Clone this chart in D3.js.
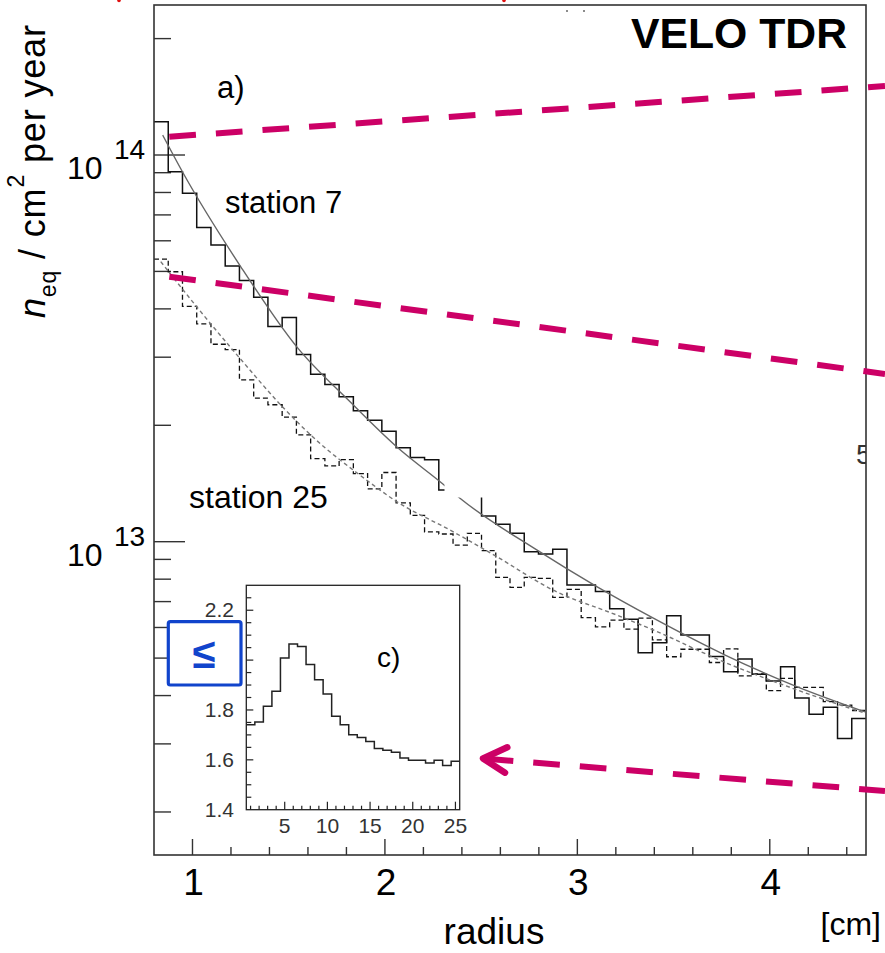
<!DOCTYPE html>
<html><head><meta charset="utf-8">
<script src="https://cdn.jsdelivr.net/npm/d3@7"></script>
<style>
body{margin:0;background:#fff}
svg{display:block}
text{font-family:"Liberation Sans",Arial,Helvetica,sans-serif}
</style>
</head><body>
<svg id="chart" width="885" height="953"></svg>
<script>
// ---------------- DATA ----------------
const radiusMin = 0.8, radiusMax = 4.5, nBins = 50;
const station7 = [1.219e14, 9.05e13, 7.96e13, 6.49e13, 5.85e13, 5.16e13, 4.74e13, 4.29e13, 3.60e13, 3.80e13,
  3.05e13, 2.71e13, 2.55e13, 2.37e13, 2.18e13, 2.06e13, 1.93e13, 1.75e13, 1.65e13, 1.63e13,
  1.36e13, 1.46e13, 1.38e13, 1.166e13, 1.109e13, 1.051e13, 9.42e12, 9.29e12, 9.56e12, 7.73e12,
  7.73e12, 7.43e12, 6.71e12, 6.30e12, 5.16e12, 5.48e12, 6.43e12, 5.74e12, 5.74e12, 5.05e12,
  4.61e12, 4.97e12, 4.54e12, 4.36e12, 4.75e12, 3.94e12, 3.58e12, 3.73e12, 3.10e12, 3.49e12];
const station25 = [5.38e13, 4.99e13, 4.06e13, 3.66e13, 3.24e13, 3.14e13, 2.62e13, 2.35e13, 2.26e13, 2.10e13,
  1.89e13, 1.64e13, 1.57e13, 1.63e13, 1.50e13, 1.37e13, 1.51e13, 1.26e13, 1.17e13, 1.06e13,
  1.047e13, 9.80e12, 1.051e13, 9.48e12, 8.09e12, 7.62e12, 8.09e12, 8.04e12, 7.18e12, 7.53e12,
  6.36e12, 6.02e12, 6.27e12, 5.94e12, 6.34e12, 5.57e12, 5.04e12, 5.27e12, 5.27e12, 4.87e12,
  5.28e12, 4.50e12, 4.55e12, 4.12e12, 4.43e12, 4.20e12, 4.20e12, 3.86e12, 3.78e12, 3.66e12];
const fit7Radius = [0.845, 0.952, 1.251, 1.542, 1.819, 2.061, 2.309, 2.390, 2.789, 3.101, 3.395, 3.768, 4.140, 4.495];
const fit7Value  = [1.126e14, 8.97e13, 5.14e13, 3.19e13, 2.30e13, 1.76e13, 1.40e13, 1.295e13, 9.52e12, 7.65e12, 6.34e12, 5.09e12, 4.22e12, 3.63e12];
const fit25Radius = [0.835, 1.029, 1.254, 1.476, 1.623, 1.891, 2.061, 2.338, 2.581, 2.875, 3.205, 3.395, 3.777, 4.140, 4.495];
const fit25Value  = [5.30e13, 4.01e13, 2.95e13, 2.21e13, 1.87e13, 1.46e13, 1.27e13, 1.072e13, 9.15e12, 7.49e12, 6.46e12, 5.91e12, 4.85e12, 4.14e12, 3.60e12];
const xTickValues = [1, 2, 3, 4];
const xTickLabels = ["1", "2", "3", "4"];
const yDecadeValues = [1e13, 1e14];
const yDecadeExponents = ["13", "14"];

const kappaStation = [1,2,3,4,5,6,7,8,9,10,11,12,13,14,15,16,17,18,19,20,21,22,23,24,25];
const kappaValue = [1.741,1.752,1.815,1.875,2.008,2.065,2.055,1.982,1.921,1.864,1.775,1.741,1.701,1.690,1.674,
  1.645,1.638,1.630,1.607,1.598,1.598,1.587,1.598,1.577,1.594];
const insetXTicks = [5, 10, 15, 20, 25];
const insetXLabels = ["5", "10", "15", "20", "25"];
// the 2.0 label is hidden behind the blue box in the reference
const insetYTicks = [1.4, 1.6, 1.8, 2.2];
const insetYLabels = ["1.4", "1.6", "1.8", "2.2"];

// ---------------- SETUP ----------------
const svg = d3.select("#chart");
const L = 154, R = 866, T = 5, B = 855;
const x = d3.scaleLinear().domain([radiusMin, radiusMax]).range([L, R]);
const y = d3.scaleLog().domain([1.548e12, 2.443e14]).range([B, T]);
const binW = (radiusMax - radiusMin) / nBins;
const axisCol = "#333";

svg.append("defs").append("clipPath").attr("id", "plotclip")
  .append("rect").attr("x", L).attr("y", T).attr("width", R - L).attr("height", B - T);

// stray marks at the top edge (cut-off content)
svg.append("circle").attr("cx", 119).attr("cy", 0.5).attr("r", 1.8).attr("fill", "#e01010");
svg.append("circle").attr("cx", 504).attr("cy", 0.5).attr("r", 1.8).attr("fill", "#e01010");
svg.append("circle").attr("cx", 567).attr("cy", 11).attr("r", 1).attr("fill", "#666");
svg.append("circle").attr("cx", 584).attr("cy", 11).attr("r", 1).attr("fill", "#666");

// y ticks (log)
const yt = y.ticks().filter(v => v >= y.domain()[0] && v <= y.domain()[1]);
svg.append("g").selectAll("line").data(yt).join("line")
  .attr("x1", L).attr("x2", v => L + (Math.abs(Math.log10(v) - Math.round(Math.log10(v))) < 1e-9 ? 31 : 17))
  .attr("y1", v => y(v)).attr("y2", v => y(v))
  .attr("stroke", axisCol).attr("stroke-width", 1.4);

// x ticks
const xt = x.ticks(20).filter(v => v > radiusMin + 1e-6);
svg.append("g").selectAll("line").data(xt).join("line")
  .attr("x1", v => x(v)).attr("x2", v => x(v))
  .attr("y1", B).attr("y2", v => B - (Math.abs(v - Math.round(v)) < 1e-9 ? 16 : 8))
  .attr("stroke", axisCol).attr("stroke-width", 1.4);

// histograms
function stepPath(vals, xs, ys, lo, w) {
  let p = "";
  vals.forEach((v, i) => {
    const x0 = xs(lo + i * w), x1 = xs(lo + (i + 1) * w), yy = ys(v);
    p += (i === 0 ? "M" : "L") + x0 + "," + yy + "L" + x1 + "," + yy;
  });
  return p;
}
const plot = svg.append("g").attr("clip-path", "url(#plotclip)");
plot.append("path").attr("d", stepPath(station25, x, y, radiusMin, binW))
  .attr("fill", "none").attr("stroke", "#111").attr("stroke-width", 1.3).attr("stroke-dasharray", "5,3");
plot.append("path").attr("d", stepPath(station7, x, y, radiusMin, binW))
  .attr("fill", "none").attr("stroke", "#111").attr("stroke-width", 1.5);

const fitLine = d3.line().x(d => x(d[0])).y(d => y(d[1])).curve(d3.curveMonotoneX);
plot.append("path").attr("d", fitLine(fit25Radius.map((r, i) => [r, fit25Value[i]])))
  .attr("fill", "none").attr("stroke", "#777").attr("stroke-width", 1.4).attr("stroke-dasharray", "4,3");
plot.append("path").attr("d", fitLine(fit7Radius.map((r, i) => [r, fit7Value[i]])))
  .attr("fill", "none").attr("stroke", "#666").attr("stroke-width", 1.4);

// white patch hiding part of station 7
svg.append("rect").attr("x", 444.5).attr("y", 440).attr("width", 38.5).attr("height", 57.5).attr("fill", "#fff");

// partially hidden glyph at right edge
svg.append("text").attr("x", 856).attr("y", 464).attr("font-size", 28).attr("fill", "#333")
  .attr("clip-path", "url(#plotclip)").text("5");

// frame
svg.append("rect").attr("x", L).attr("y", T).attr("width", R - L).attr("height", B - T)
  .attr("fill", "none").attr("stroke", axisCol).attr("stroke-width", 1.6);

// x labels
svg.append("g").selectAll("text").data(xTickValues).join("text")
  .attr("x", v => x(v) + 1).attr("y", 895).attr("text-anchor", "middle")
  .attr("font-size", 37).text((v, i) => xTickLabels[i]);
svg.append("text").attr("x", 494).attr("y", 944).attr("text-anchor", "middle").attr("font-size", 37).text("radius");
svg.append("text").attr("x", 881).attr("y", 935).attr("text-anchor", "end").attr("font-size", 32).text("[cm]");

// y labels 10^n
yDecadeValues.forEach((v, i) => {
  const g = svg.append("g");
  g.append("text").attr("x", 67).attr("y", y(v) + 24).attr("font-size", 32).text("10");
  g.append("text").attr("x", 114).attr("y", y(v) + 4).attr("font-size", 28).text(yDecadeExponents[i]);
});

// y axis title
const yt_ = svg.append("text").attr("transform", "translate(45,318) rotate(-90)").attr("font-size", 36)
  .attr("textLength", 293).attr("lengthAdjust", "spacing");
yt_.append("tspan").attr("font-style", "italic").text("n");
yt_.append("tspan").attr("font-size", 23).attr("dy", 11).text("eq");
yt_.append("tspan").attr("dy", -11).text(" / cm");
yt_.append("tspan").attr("font-size", 23).attr("dy", -21).text("2");
yt_.append("tspan").attr("dy", 21).text(" per year");

// annotations
svg.append("text").attr("x", 217).attr("y", 98).attr("font-size", 31).text("a)");
svg.append("text").attr("x", 225).attr("y", 213).attr("font-size", 31).text("station 7");
svg.append("text").attr("x", 189).attr("y", 508).attr("font-size", 32).text("station 25");
svg.append("text").attr("x", 631).attr("y", 48).attr("font-size", 42).attr("font-weight", "bold")
  .attr("font-family", "'DejaVu Sans', sans-serif").attr("textLength", 216).attr("lengthAdjust", "spacingAndGlyphs")
  .text("VELO TDR");

// ---------------- INSET ----------------
const iL = 246.3, iR = 459.7, iT = 585.3, iB = 809.7;
const xi = d3.scaleLinear().domain([0.5, 25.5]).range([iL, iR]);
const yi = d3.scaleLinear().domain([1.4, 2.3]).range([iB, iT]);
svg.append("rect").attr("x", iL).attr("y", iT).attr("width", iR - iL).attr("height", iB - iT).attr("fill", "#fff");
svg.append("g").selectAll("line").data(kappaStation).join("line")
  .attr("x1", v => xi(v)).attr("x2", v => xi(v)).attr("y1", iB).attr("y2", v => iB - (v % 5 === 0 ? 8 : 4))
  .attr("stroke", "#222").attr("stroke-width", 1.2);
const iyt = yi.ticks(18).filter(v => v > 1.4 + 1e-6 && v < 2.3 - 1e-6);
svg.append("g").selectAll("line").data(iyt).join("line")
  .attr("x1", iL).attr("x2", v => iL + (Math.abs(v * 5 - Math.round(v * 5)) < 1e-6 ? 7 : 5))
  .attr("y1", v => yi(v)).attr("y2", v => yi(v))
  .attr("stroke", "#222").attr("stroke-width", 1.2);
svg.append("path").attr("d", stepPath(kappaValue, xi, yi, 0.5, 1))
  .attr("fill", "none").attr("stroke", "#222").attr("stroke-width", 1.5);
svg.append("rect").attr("x", iL).attr("y", iT).attr("width", iR - iL).attr("height", iB - iT)
  .attr("fill", "none").attr("stroke", "#222").attr("stroke-width", 1.3);
svg.append("g").selectAll("text").data(insetXTicks).join("text")
  .attr("x", v => xi(v)).attr("y", 833).attr("text-anchor", "middle").attr("font-size", 21).attr("fill", "#333")
  .text((v, i) => insetXLabels[i]);
svg.append("g").selectAll("text").data(insetYTicks).join("text")
  .attr("x", 234).attr("y", v => yi(v) + 7).attr("text-anchor", "end").attr("font-size", 21).attr("fill", "#333")
  .text((v, i) => insetYLabels[i]);
svg.append("text").attr("x", 377).attr("y", 667).attr("font-size", 28).text("c)");

// ---------------- OVERLAYS ----------------
const mag = "#cc0066";
function dashed(x1, y1, x2, y2, off) {
  svg.append("line").attr("x1", x1).attr("y1", y1).attr("x2", x2).attr("y2", y2)
    .attr("stroke", mag).attr("stroke-width", 6).attr("stroke-dasharray", "26.7,20").attr("stroke-dashoffset", off);
}
dashed(169.3, 136.7, 885, 86, 0);
dashed(169.3, 276.7, 885, 374, 0);
dashed(480, 758.3, 885, 791, 40);
svg.append("path").attr("d", "M507.3,747.3L483,758.5L505,772.7")
  .attr("fill", "none").attr("stroke", mag).attr("stroke-width", 6.5)
  .attr("stroke-linecap", "round").attr("stroke-linejoin", "round");

// blue box with symbol
svg.append("rect").attr("x", 168.3).attr("y", 621.7).attr("width", 72.7).attr("height", 63.3).attr("rx", 2)
  .attr("fill", "#fff").attr("stroke", "#1144cc").attr("stroke-width", 3.2);
svg.append("text").attr("x", 204).attr("y", 668).attr("text-anchor", "middle")
  .attr("font-size", 42).attr("font-weight", "bold").attr("fill", "#1144cc").attr("font-family", "'DejaVu Sans',sans-serif")
  .text("≤");
</script>
</body></html>
